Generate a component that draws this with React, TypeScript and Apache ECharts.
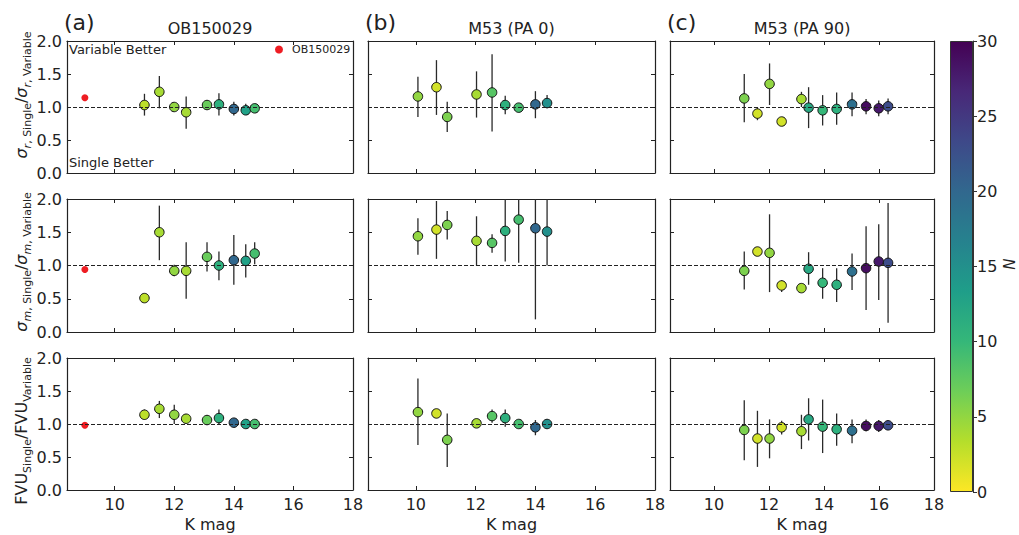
import React, { useEffect, useRef } from "react";
import * as echarts from "echarts";

// ---------- DATA ----------
const X_TICKS = [10, 12, 14, 16, 18];

const TITLES = ["OB150029", "M53 (PA 0)", "M53 (PA 90)"];
const PANEL_TAGS = ["(a)", "(b)", "(c)"];

// OB150029 reference point (red)
const OB_MAG = 9.0;
const OB_VALUES = [1.14, 0.94, 0.98];

// Column (a) OB150029
const magA = [11.0, 11.5, 12.0, 12.4, 13.1, 13.5, 14.0, 14.4, 14.7];
const nA = [3, 4, 5, 4, 7, 11, 20, 13, 9];
const sigRA = [1.03, 1.23, 1.0, 0.92, 1.03, 1.04, 0.97, 0.95, 0.98];
const sigRA_lo = [0.87, 0.98, 0.97, 0.67, 1.0, 0.87, 0.87, 0.88, 0.95];
const sigRA_hi = [1.2, 1.47, 1.03, 1.16, 1.06, 1.21, 1.08, 1.05, 1.01];
const sigMA = [0.51, 1.5, 0.92, 0.92, 1.13, 1.0, 1.08, 1.07, 1.18];
const sigMA_lo = [0.51, 1.08, 0.84, 0.5, 0.91, 0.78, 0.71, 0.82, 1.02];
const sigMA_hi = [0.51, 1.9, 1.01, 1.35, 1.35, 1.21, 1.46, 1.32, 1.35];
const fvuA = [1.14, 1.23, 1.14, 1.08, 1.06, 1.09, 1.02, 1.0, 1.0];
const fvuA_lo = [1.07, 1.09, 1.0, 1.01, 1.03, 1.0, 1.0, 0.98, 0.98];
const fvuA_hi = [1.22, 1.35, 1.29, 1.15, 1.09, 1.22, 1.04, 1.02, 1.02];

// Column (b) M53 (PA 0)
const magB = [10.07, 10.69, 11.05, 12.03, 12.55, 12.99, 13.44, 14.0, 14.39];
const nB = [5, 2, 6, 4, 8, 11, 9, 20, 15];
const sigRB = [1.16, 1.3, 0.85, 1.19, 1.22, 1.03, 0.99, 1.04, 1.06];
const sigRB_lo = [0.85, 0.88, 0.62, 0.84, 0.63, 0.89, 0.95, 0.83, 0.98];
const sigRB_hi = [1.46, 1.71, 1.08, 1.54, 1.8, 1.17, 1.02, 1.24, 1.18];
const sigMB = [1.44, 1.54, 1.61, 1.37, 1.34, 1.52, 1.69, 1.56, 1.51];
const sigMB_lo = [1.16, 1.1, 1.39, 1.0, 1.19, 1.06, 1.04, 0.19, 1.0];
const sigMB_hi = [1.71, 1.97, 1.82, 1.74, 1.47, 2.0, 2.3, 2.3, 2.3];
const fvuB = [1.18, 1.16, 0.76, 1.01, 1.12, 1.09, 1.0, 0.95, 1.0];
const fvuB_lo = [0.68, 1.16, 0.35, 0.95, 1.02, 0.96, 0.98, 0.83, 0.98];
const fvuB_hi = [1.69, 1.16, 1.16, 1.05, 1.22, 1.22, 1.02, 1.06, 1.02];

// Column (c) M53 (PA 90)
const magC = [11.1, 11.58, 12.02, 12.46, 13.18, 13.44, 13.95, 14.46, 15.02, 15.53, 15.99, 16.33];
const nC = [6, 2, 5, 2, 4, 12, 10, 11, 19, 29, 28, 23];
const sigRC = [1.13, 0.9, 1.35, 0.78, 1.12, 0.99, 0.95, 0.97, 1.04, 1.01, 0.98, 1.01];
const sigRC_lo = [0.77, 0.8, 1.03, 0.78, 1.0, 0.68, 0.72, 0.73, 0.86, 0.89, 0.86, 0.89];
const sigRC_hi = [1.5, 0.99, 1.66, 0.78, 1.23, 1.3, 1.18, 1.22, 1.22, 1.12, 1.1, 1.13];
const sigMC = [0.92, 1.21, 1.19, 0.7, 0.66, 0.95, 0.74, 0.71, 0.91, 0.96, 1.06, 1.04];
const sigMC_lo = [0.64, 1.21, 0.6, 0.6, 0.66, 0.71, 0.5, 0.45, 0.63, 0.33, 0.48, 0.14];
const sigMC_hi = [1.21, 1.21, 1.77, 0.78, 0.66, 1.2, 0.96, 0.96, 1.18, 1.59, 1.62, 1.94];
const fvuC = [0.91, 0.78, 0.78, 0.95, 0.89, 1.07, 0.96, 0.92, 0.9, 0.97, 0.97, 0.98];
const fvuC_lo = [0.45, 0.35, 0.48, 0.84, 0.62, 0.75, 0.56, 0.67, 0.71, 0.89, 0.88, 0.96];
const fvuC_hi = [1.36, 1.2, 1.07, 1.05, 1.14, 1.39, 1.37, 1.16, 1.07, 1.07, 1.06, 1.0];

const VIRIDIS = ["#440154", "#482878", "#3e4989", "#31688e", "#26828e", "#1f9e89", "#35b779", "#6ece58", "#b5de2b", "#fde725"];

// ---------- LAYOUT ----------
const FONT = "DejaVu Sans";
const COLS = [
  { left: 67, width: 286 },
  { left: 368, width: 287 },
  { left: 670, width: 264 },
];
const ROWS = [
  { top: 41, height: 132 },
  { top: 199, height: 133 },
  { top: 358, height: 132 },
];
const Y_LABEL_CENTERS = [95, 262, 431];

const PANELS = [
  { mag: magA, n: nA, rows: [[sigRA, sigRA_lo, sigRA_hi], [sigMA, sigMA_lo, sigMA_hi], [fvuA, fvuA_lo, fvuA_hi]] },
  { mag: magB, n: nB, rows: [[sigRB, sigRB_lo, sigRB_hi], [sigMB, sigMB_lo, sigMB_hi], [fvuB, fvuB_lo, fvuB_hi]] },
  { mag: magC, n: nC, rows: [[sigRC, sigRC_lo, sigRC_hi], [sigMC, sigMC_lo, sigMC_hi], [fvuC, fvuC_lo, fvuC_hi]] },
];

const AX = "#222";

function errRender(params: any, api: any) {
  const x = api.value(0);
  const lo = api.value(1);
  const hi = api.value(2);
  const a = api.coord([x, lo]);
  const b = api.coord([x, hi]);
  const cs = params.coordSys;
  const y0 = cs.y;
  const y1 = cs.y + cs.height;
  const cl = (v: number) => Math.max(y0, Math.min(y1, v));
  return {
    type: "line",
    shape: { x1: a[0], y1: cl(a[1]), x2: b[0], y2: cl(b[1]) },
    style: { stroke: "#2a2a2a", lineWidth: 1.3 },
  };
}

export default function App() {
  const ref = useRef<HTMLDivElement>(null);
  useEffect(() => {
    const chart = echarts.init(ref.current!, null, { renderer: "svg" });
    const grid: any[] = [];
    const xAxis: any[] = [];
    const yAxis: any[] = [];
    const series: any[] = [];
    const scatterIdx: number[] = [];
    const axisLine = { show: true, onZero: false, lineStyle: { color: AX, width: 1.2 } };
    const tickIn = { show: true, inside: true, length: 4, lineStyle: { color: AX, width: 1 } };

    for (let r = 0; r < 3; r++) {
      for (let c = 0; c < 3; c++) {
        const gi = r * 3 + c;
        grid.push({ left: COLS[c].left, top: ROWS[r].top, width: COLS[c].width, height: ROWS[r].height });
        xAxis.push({
          gridIndex: gi, type: "value", min: 8.4, max: 18, position: "bottom",
          axisLine, axisTick: { ...tickIn, customValues: X_TICKS },
          axisLabel: { show: r === 2, customValues: X_TICKS, fontSize: 16, color: AX, margin: 6, fontFamily: FONT },
          splitLine: { show: false },
          name: r === 2 ? "K mag" : "", nameLocation: "middle", nameGap: 26,
          nameTextStyle: { fontSize: 16, color: AX, fontFamily: FONT },
        });
        xAxis.push({
          gridIndex: gi, type: "value", min: 8.4, max: 18, position: "top",
          axisLine, axisTick: { ...tickIn, customValues: X_TICKS },
          axisLabel: { show: false }, splitLine: { show: false },
        });
        yAxis.push({
          gridIndex: gi, type: "value", min: 0, max: 2, interval: 0.5, position: "left",
          axisLine, axisTick: tickIn,
          axisLabel: { show: c === 0, formatter: (v: number) => v.toFixed(1), fontSize: 16, color: AX, margin: 5, fontFamily: FONT },
          splitLine: { show: false },
        });
        yAxis.push({
          gridIndex: gi, type: "value", min: 0, max: 2, interval: 0.5, position: "right",
          axisLine, axisTick: tickIn, axisLabel: { show: false }, splitLine: { show: false },
        });
        const P = PANELS[c];
        const [vals, lo, hi] = P.rows[r];
        series.push({
          type: "custom", xAxisIndex: 2 * gi, yAxisIndex: 2 * gi, silent: true, z: 2,
          data: P.mag.map((m, k) => [m, lo[k], hi[k]]),
          encode: { x: 0, y: [1, 2] },
          renderItem: errRender,
          markLine: {
            silent: true, symbol: "none", label: { show: false },
            lineStyle: { color: AX, width: 1, type: [4, 2] },
            data: [{ yAxis: 1 }],
          },
        });
        scatterIdx.push(series.length);
        series.push({
          type: "scatter", xAxisIndex: 2 * gi, yAxisIndex: 2 * gi, z: 3, silent: true,
          data: P.mag.map((m, k) => [m, vals[k], P.n[k]]),
          symbolSize: 9.5,
          itemStyle: { borderColor: "#111", borderWidth: 1, opacity: 1 },
        });
        if (c === 0) {
          series.push({
            type: "scatter", name: "OB150029", xAxisIndex: 2 * gi, yAxisIndex: 2 * gi, z: 3, silent: true,
            data: [[OB_MAG, OB_VALUES[r]]], symbolSize: 7,
            itemStyle: { color: "#ee1d23", opacity: 1 },
          });
        }
      }
    }

    // colorbar grid
    grid.push({ left: 950, top: 41, width: 23, height: 451 });
    xAxis.push({ gridIndex: 9, type: "category", data: ["N"], show: false });
    yAxis.push({
      gridIndex: 9, type: "value", min: 0, max: 30, interval: 5, position: "right",
      axisLine: { show: true, lineStyle: { color: "#333", width: 1 } },
      axisTick: { show: true, inside: false, length: 4, lineStyle: { color: "#333" } },
      axisLabel: { fontSize: 16, color: AX, margin: 4, fontFamily: FONT },
      splitLine: { show: false },
    });
    series.push({
      type: "bar", xAxisIndex: 18, yAxisIndex: 18, data: [30], barWidth: "100%", silent: true,
      itemStyle: {
        color: new echarts.graphic.LinearGradient(0, 0, 0, 1, VIRIDIS.map((col, i) => ({ offset: i / (VIRIDIS.length - 1), color: col }))),
        borderColor: "#333", borderWidth: 1,
      },
    });

    const richY = {
      m: { fontSize: 16, fontStyle: "italic", fontFamily: FONT, fill: AX, lineHeight: 24 },
      n: { fontSize: 16, fontFamily: FONT, fill: AX, lineHeight: 24 },
      si: { fontSize: 11, fontStyle: "italic", fontFamily: FONT, fill: AX, verticalAlign: "bottom" },
      s: { fontSize: 11, fontFamily: FONT, fill: AX, verticalAlign: "bottom" },
    };
    const yLabels = [
      "{m|σ}{si|r}{s|, Single}{n|/}{m|σ}{si|r}{s|, Variable}",
      "{m|σ}{si|m}{s|, Single}{n|/}{m|σ}{si|m}{s|, Variable}",
      "{n|FVU}{s|Single}{n|/FVU}{s|Variable}",
    ];

    const graphic: any[] = [];
    for (let c = 0; c < 3; c++) {
      graphic.push({
        type: "text", x: COLS[c].left - 3, y: 22,
        style: { text: PANEL_TAGS[c], fontSize: 22, fontFamily: FONT, fill: AX, align: "left", verticalAlign: "middle" },
      });
      graphic.push({
        type: "text", x: COLS[c].left + COLS[c].width / 2, y: 28,
        style: { text: TITLES[c], fontSize: 16, fontFamily: FONT, fill: AX, align: "center", verticalAlign: "middle" },
      });
    }
    for (let r = 0; r < 3; r++) {
      graphic.push({
        type: "text", x: 21, y: Y_LABEL_CENTERS[r], rotation: Math.PI / 2,
        style: { text: yLabels[r], rich: richY, align: "center", verticalAlign: "middle", fontFamily: FONT },
      });
    }
    graphic.push({
      type: "text", x: 69, y: 43,
      style: { text: "Variable Better", fontSize: 13, fontFamily: FONT, fill: AX, align: "left", verticalAlign: "top" },
    });
    graphic.push({
      type: "text", x: 69, y: 156,
      style: { text: "Single Better", fontSize: 13, fontFamily: FONT, fill: AX, align: "left", verticalAlign: "top" },
    });
    graphic.push({
      type: "text", x: 1008, y: 264, rotation: -Math.PI / 2,
      style: { text: "N", fontSize: 15, fontStyle: "italic", fontFamily: FONT, fill: AX, align: "center", verticalAlign: "middle" },
    });

    chart.setOption({
      animation: false,
      backgroundColor: "#fff",
      textStyle: { fontFamily: FONT },
      grid, xAxis, yAxis, series, graphic,
      legend: {
        data: ["OB150029"], left: 275, top: 44, padding: 0, selectedMode: false,
        icon: "circle", itemWidth: 16, itemHeight: 8, itemGap: 4,
        textStyle: { fontSize: 11, color: AX, fontFamily: FONT },
      },
      visualMap: [{
        type: "continuous", show: false, min: 0, max: 30, dimension: 2,
        seriesIndex: scatterIdx, inRange: { color: VIRIDIS.slice().reverse() },
      }],
    });
    return () => chart.dispose();
  }, []);
  return <div ref={ref} style={{ position: "fixed", left: 0, top: 0, width: 1019, height: 535, background: "#fff" }} />;
}
